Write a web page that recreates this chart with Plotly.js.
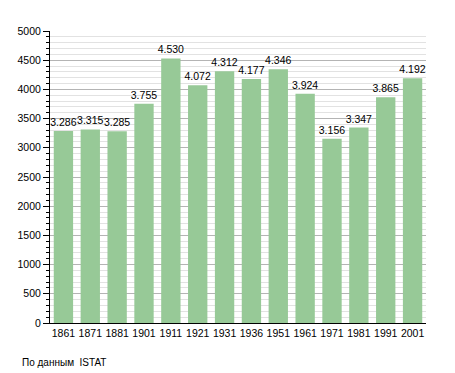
<!DOCTYPE html>
<html>
<head>
<meta charset="utf-8">
<script src="https://cdn.plot.ly/plotly-3.0.1.min.js"></script>
<style>body{margin:0;padding:0;background:#fff}#chart{width:455px;height:373px}</style>
</head>
<body>
<div id="chart"></div>
<script>
const years = ["1861","1871","1881","1901","1911","1921","1931","1936","1951","1961","1971","1981","1991","2001"];
const population = [3286,3315,3285,3755,4530,4072,4312,4177,4346,3924,3156,3347,3865,4192];
const labels = ["3.286","3.315","3.285","3.755","4.530","4.072","4.312","4.177","4.346","3.924","3.156","3.347","3.865","4.192"];

const trace = {
  type: 'bar',
  x: years,
  y: population,
  text: labels,
  textposition: 'outside',
  constraintext: 'none',
  cliponaxis: false,
  textfont: {family: 'Liberation Sans, Arial, sans-serif', size: 10.5, color: '#000'},
  marker: {color: '#97c997'},
  hoverinfo: 'x+y'
};

const layout = {
  width: 455, height: 373,
  margin: {l: 50, r: 29, t: 31, b: 50},
  paper_bgcolor: '#fff', plot_bgcolor: '#fff',
  bargap: 0.28,
  showlegend: false,
  font: {family: 'Liberation Sans, Arial, sans-serif', size: 10, color: '#000'},
  xaxis: {
    type: 'category',
    showline: true, linecolor: '#000', linewidth: 1,
    ticks: '', showgrid: false,
    tickfont: {size: 10.5}
  },
  yaxis: {
    range: [0, 5000], dtick: 500, tick0: 0,
    showline: true, linecolor: '#000', linewidth: 1,
    ticks: 'outside', ticklen: 6, tickcolor: '#000',
    gridcolor: '#b4b4b4', gridwidth: 1,
    zeroline: false,
    tickfont: {size: 10.5},
    minor: {dtick: 100, showgrid: true, gridcolor: '#e2e2e2', ticks: 'outside', ticklen: 3, tickcolor: '#000'}
  },
  annotations: [{
    text: 'По данным  ISTAT', xref: 'paper', yref: 'paper',
    x: -0.08, y: -0.1336, xanchor: 'left', yanchor: 'middle', showarrow: false,
    font: {size: 10, color: '#000'}
  }]
};

Plotly.newPlot('chart', [trace], layout, {displayModeBar: false, staticPlot: true});
</script>
</body>
</html>
